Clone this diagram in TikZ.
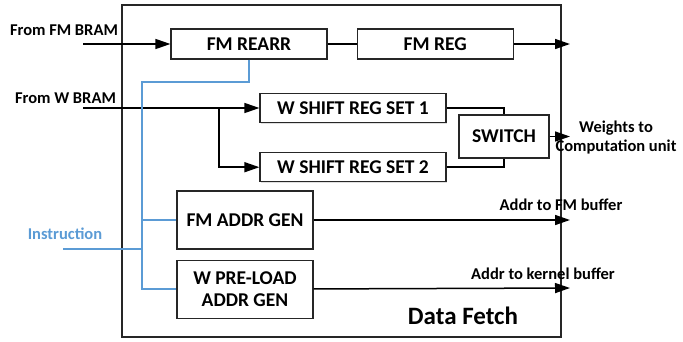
\documentclass[tikz,border=0pt]{standalone}
\usepackage{fontspec}
\setmainfont{Carlito}
\usetikzlibrary{positioning}
\usetikzlibrary{shadows}
\usetikzlibrary {arrows.meta}
\definecolor{instrblue}{RGB}{91,155,213}
\tikzset{
  fetchblock/.style= {
    rectangle,
    draw = black!85,
    fill = white,
    line width = 1.2pt,
    inner sep = 0pt,
    align = center,
    font = \fontsize{19.5}{22}\selectfont\bfseries,
    drop shadow = {opacity=0.25, shadow xshift=1pt, shadow yshift=-1pt}
  },
  wire/.style= {
    draw = black,
    line width = 1.5pt
  },
  wirearrow/.style= {
    wire,
    -{Triangle[length=15pt,width=10pt]}
  },
  instrline/.style= {
    draw = instrblue,
    line width = 1.5pt
  },
  portlabel/.style= {
    font = \fontsize{16.5}{19}\selectfont\bfseries,
    align = center,
    inner sep = 0pt
  }
}
\begin{document}
\begin{tikzpicture}[x=1pt,y=-1pt]
  \useasboundingbox (0,0) rectangle (683,341);

  % outer frame
  \draw[black!85,line width=1.2pt] (122,5) rectangle (561,337);
  \node[font=\fontsize{25}{28}\selectfont\bfseries] (title) at (463,316) {Data Fetch};

  % feature map path
  \node[fetchblock,minimum width=156pt,minimum height=30pt] (fmrearr) at (249,44) {FM REARR};
  \node[fetchblock,minimum width=156pt,minimum height=30pt,right=29pt of fmrearr] (fmreg) {FM REG};
  \coordinate (fmin) at (83,44);
  \coordinate (fmout) at (570,44);
  \node[portlabel] (fmlabel) at (64,30) {From FM BRAM};
  \draw[wirearrow] (fmin) -- (fmrearr);
  \draw[wire] (fmrearr) -- (fmreg);
  \draw[wirearrow] (fmreg) -- (fmout);

  % weight path
  \node[fetchblock,minimum width=186pt,minimum height=29pt] (wset1) at (353,108) {W SHIFT REG SET 1};
  \node[fetchblock,minimum width=186pt,minimum height=29pt,below=29pt of wset1] (wset2) {W SHIFT REG SET 2};
  \node[fetchblock,minimum width=90pt,minimum height=43pt] (switch) at (504,136.5) {SWITCH};
  \coordinate (win) at (83,108);
  \coordinate (wsplit) at (219,108);
  \coordinate (wout) at (570,136.5);
  \node[portlabel] (wlabel) at (65.5,98) {From W BRAM};
  \draw[wirearrow] (win) -- (wset1);
  \draw[wirearrow] (wsplit) |- (wset2);
  \draw[wire] (wset1) -| (switch.north);
  \draw[wire] (wset2) -| (switch.south);
  \draw[wirearrow] (switch) -- (wout);
  \node[portlabel] (wtarget) at (616,137.5) {Weights to\\Computation unit};

  % address generators
  \node[fetchblock,minimum width=136pt,minimum height=58pt] (fmaddr) at (245,220) {FM ADDR GEN};
  \node[fetchblock,minimum width=136pt,minimum height=58pt,below=10pt of fmaddr] (wpreload) {W PRE-LOAD\\ADDR GEN};
  \coordinate (fmaddrout) at (570,220);
  \coordinate (waddrout) at (570,288);
  \draw[wirearrow] (fmaddr) -- (fmaddrout);
  \draw[wirearrow] (wpreload) -- (waddrout);
  \node[portlabel] (fmaddrlabel) at (561,205) {Addr to FM buffer};
  \node[portlabel] (waddrlabel) at (543,274) {Addr to kernel buffer};

  % instruction bus
  \coordinate (instrin) at (63,249);
  \coordinate (instrtop) at (142,82);
  \node[portlabel,text=instrblue] (instrlabel) at (65,234) {Instruction};
  \draw[instrline] (fmrearr.south) |- (instrtop) |- (wpreload.west);
  \draw[instrline] (instrtop |- fmaddr.west) -- (fmaddr.west);
  \draw[instrline] (instrin) -- (instrtop |- instrin);
\end{tikzpicture}
\end{document}
